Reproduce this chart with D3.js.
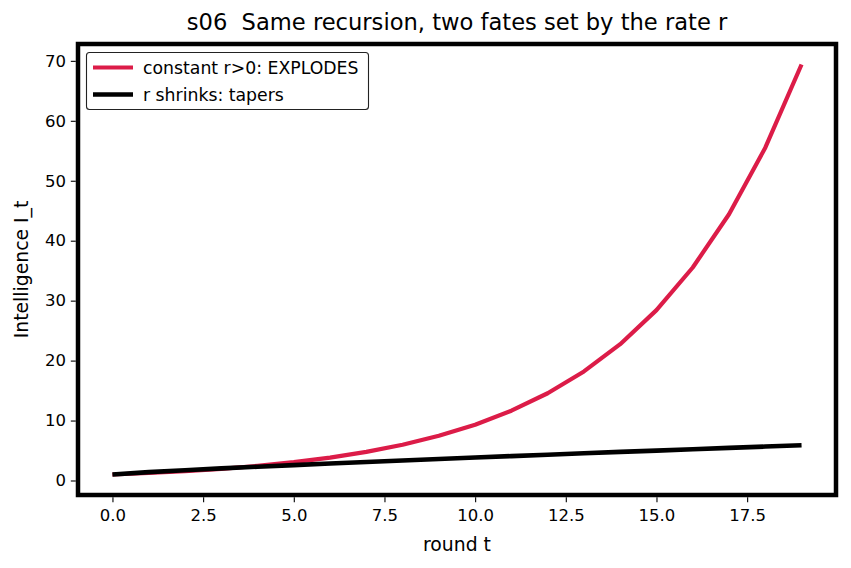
<!DOCTYPE html>
<html>
<head>
<meta charset="utf-8">
<script src="https://cdn.jsdelivr.net/npm/d3@7/dist/d3.min.js"></script>
<style>
  html, body { margin: 0; padding: 0; background: #fff; }
  svg { display: block; font-family: "DejaVu Sans", sans-serif; }
  text { white-space: pre; }
</style>
</head>
<body>
<svg id="chart" width="851" height="568"></svg>
<script>
// ---- data ----
const rounds = [0,1,2,3,4,5,6,7,8,9,10,11,12,13,14,15,16,17,18,19];
const explodes = [1.00,1.25,1.56,1.95,2.44,3.05,3.81,4.77,5.96,7.45,9.31,11.64,14.55,18.19,22.74,28.42,35.53,44.41,55.51,69.39];
const tapers = [1.00,1.40,1.72,2.02,2.30,2.57,2.83,3.09,3.34,3.59,3.83,4.07,4.30,4.54,4.77,4.99,5.21,5.44,5.66,5.88];
const xTicks = [0,2.5,5,7.5,10,12.5,15,17.5];
const yTicks = [0,10,20,30,40,50,60,70];
const seriesNames = ["constant r>0: EXPLODES", "r shrinks: tapers"];
const seriesColors = ["#dc1c48", "#000000"];
const titleText = "s06  Same recursion, two fates set by the rate r";
const xLabel = "round t";
const yLabel = "Intelligence I_t";

// ---- layout ----
const svg = d3.select("#chart");
const L = 78, R = 836, T = 44, B = 495;
const x = d3.scaleLinear().domain([-0.95, 19.95]).range([L, R]);
const y = d3.scaleLinear().domain([-2.42, 72.81]).range([B, T]);
const fs = 16.5;

// lines
const line = d3.line().x((d, i) => x(rounds[i])).y(d => y(d));
const series = [explodes, tapers];
series.forEach((s, k) => {
  svg.append("path")
    .attr("d", line(s))
    .attr("fill", "none")
    .attr("stroke", seriesColors[k])
    .attr("stroke-width", k === 0 ? 4.2 : 4.6)
    .attr("stroke-linejoin", "round")
    .attr("stroke-linecap", "butt");
});

// axes
const xAxis = d3.axisBottom(x).tickValues(xTicks).tickFormat(d3.format(".1f")).tickSize(5).tickPadding(5);
const yAxis = d3.axisLeft(y).tickValues(yTicks).tickFormat(d3.format("d")).tickSize(5).tickPadding(5);
const gx = svg.append("g").attr("transform", `translate(0,${B})`).call(xAxis);
const gy = svg.append("g").attr("transform", `translate(${L},0)`).call(yAxis);
[gx, gy].forEach(g => {
  g.select(".domain").remove();
  g.selectAll(".tick line").attr("stroke", "#000").attr("stroke-width", 1.1);
  g.selectAll(".tick text").attr("font-size", fs).attr("fill", "#000").attr("font-family", "DejaVu Sans");
});
gx.selectAll(".tick line").attr("y1", 2.2).attr("y2", 7.2);
gx.selectAll(".tick text").attr("y", 14).attr("dy", "0.71em");
gy.selectAll(".tick line").attr("x1", -2.2).attr("x2", -7.2);
gy.selectAll(".tick text").attr("x", -12);

// frame
svg.append("rect")
  .attr("x", L).attr("y", T).attr("width", R - L).attr("height", B - T)
  .attr("fill", "none").attr("stroke", "#000").attr("stroke-width", 4.5);

// title & labels
svg.append("text").attr("x", (L + R) / 2).attr("y", 30).attr("text-anchor", "middle")
  .attr("font-size", 22.6).attr("fill", "#000").text(titleText);
svg.append("text").attr("x", (L + R) / 2).attr("y", 551).attr("text-anchor", "middle")
  .attr("font-size", 18.8).attr("fill", "#000").text(xLabel);
svg.append("text").attr("transform", `translate(28,${(T + B) / 2}) rotate(-90)`).attr("text-anchor", "middle")
  .attr("font-size", 18.8).attr("fill", "#000").text(yLabel);

// legend
const lg = svg.append("g");
lg.append("rect").attr("x", 86.5).attr("y", 52.5).attr("width", 282).attr("height", 57)
  .attr("rx", 3).attr("fill", "#fff").attr("stroke", "#222").attr("stroke-width", 1.1);
seriesNames.forEach((name, k) => {
  const yy = 67.5 + k * 27;
  lg.append("line").attr("x1", 93).attr("x2", 133).attr("y1", yy).attr("y2", yy)
    .attr("stroke", seriesColors[k]).attr("stroke-width", k === 0 ? 4.2 : 4.6);
  lg.append("text").attr("x", 143).attr("y", yy + 6).attr("font-size", 17.3).attr("fill", "#000").text(name);
});
</script>
</body>
</html>
